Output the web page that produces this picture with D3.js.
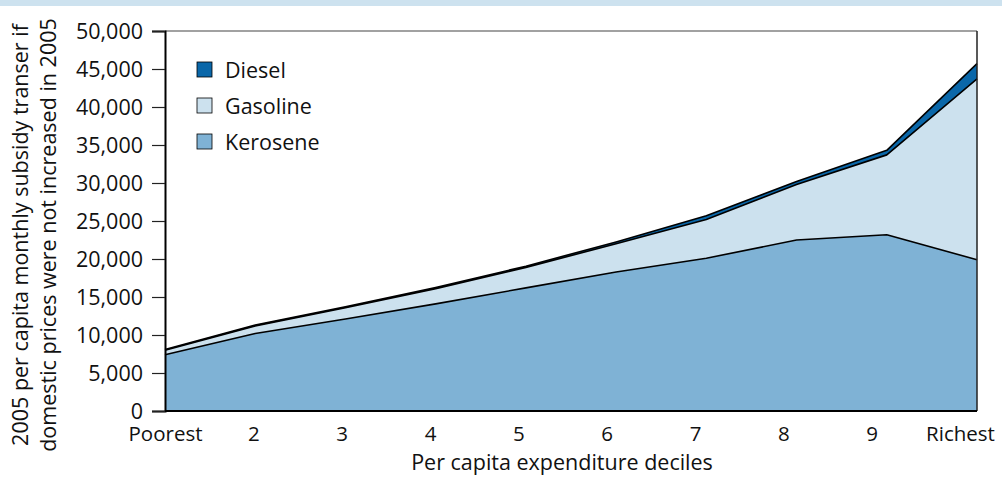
<!DOCTYPE html>
<html>
<head>
<meta charset="utf-8">
<script src="https://cdn.jsdelivr.net/npm/d3@7"></script>
<style>
  body { margin: 0; background: #fff; }
  text { font-family: "Open Sans", "Noto Sans", sans-serif; fill: #111; }
</style>
</head>
<body>
<div id="chart"></div>
<script>
const deciles = ["Poorest", "2", "3", "4", "5", "6", "7", "8", "9", "Richest"];
const kerosene = [7400, 10200, 12100, 14100, 16200, 18300, 20100, 22500, 23200, 19900];
const gasoline = [600, 1000, 1500, 2000, 2700, 3700, 5100, 7300, 10500, 23800];
const diesel = [100, 100, 100, 150, 150, 250, 500, 400, 600, 2000];
const yTicks = [0, 5000, 10000, 15000, 20000, 25000, 30000, 35000, 40000, 45000, 50000];
const seriesNames = ["Kerosene", "Gasoline", "Diesel"];
const colors = {Kerosene: "#7fb2d5", Gasoline: "#cce1ee", Diesel: "#0a67a9"};

const W = 1002, H = 477;
const margin = {top: 31, right: 25, bottom: 66, left: 165};
const width = W - margin.left - margin.right,
      height = H - margin.top - margin.bottom;
const fs = "21.5px";
const tickFs = "20.5px";

const svgRoot = d3.select("#chart").append("svg")
  .attr("width", W).attr("height", H);

// title band, cropped at top
svgRoot.append("rect").attr("x", 0).attr("y", 0).attr("width", W).attr("height", 6)
  .attr("fill", "#cde2ef");

const svg = svgRoot.append("g").attr("transform", `translate(${margin.left},${margin.top})`);

const rows = deciles.map((d, i) => ({decile: d, Kerosene: kerosene[i], Gasoline: gasoline[i], Diesel: diesel[i]}));
const stacked = d3.stack().keys(seriesNames)(rows);

const x = d3.scalePoint().domain(deciles).range([0, width]);
// labels sit slightly left of data points in the original
const xLab = d3.scalePoint().domain(deciles).range([0, width - 17]);
const y = d3.scaleLinear().domain([0, 50000]).range([height, 0]);

const area = d3.area()
  .x(d => x(d.data.decile))
  .y0(d => y(d[0]))
  .y1(d => y(d[1]));

svg.selectAll(".layer")
  .data(stacked)
  .join("path")
    .attr("class", "layer")
    .attr("fill", d => colors[d.key])
    .attr("d", area);

// outlines along the top of each layer
const topLine = d3.line().x(d => x(d.data.decile)).y(d => y(d[1]));
svg.selectAll(".edge")
  .data(stacked)
  .join("path")
    .attr("class", "edge")
    .attr("fill", "none")
    .attr("stroke", "#000")
    .attr("stroke-width", 1.6)
    .attr("stroke-linejoin", "round")
    .attr("d", d => topLine(d));

// frame top and right
svg.append("line").attr("x1", 0).attr("x2", width).attr("y1", 0).attr("y2", 0)
  .attr("stroke", "#444").attr("stroke-width", 1.2);
svg.append("line").attr("x1", width).attr("x2", width).attr("y1", 0).attr("y2", height)
  .attr("stroke", "#222").attr("stroke-width", 1.5);

// y axis
const yAxis = svg.append("g")
  .call(d3.axisLeft(y).tickValues(yTicks).tickSize(13).tickPadding(9)
    .tickFormat(d3.format(",")));
yAxis.select(".domain").attr("stroke", "#000").attr("stroke-width", 2);
yAxis.selectAll(".tick line").attr("stroke", "#222").attr("stroke-width", 1.2);
yAxis.selectAll("text").style("font-size", fs).attr("dy", "0.35em");

// x axis
svg.append("line").attr("x1", 0).attr("x2", width).attr("y1", height).attr("y2", height)
  .attr("stroke", "#000").attr("stroke-width", 2);
const xAxis = svg.append("g").attr("transform", `translate(0,${height})`)
  .call(d3.axisBottom(xLab).tickSize(0).tickPadding(15));
xAxis.select(".domain").remove();
xAxis.selectAll("text").style("font-size", tickFs);

// axis titles
svg.append("text")
  .attr("x", 562 - margin.left)
  .attr("y", 470 - margin.top)
  .attr("text-anchor", "middle")
  .style("font-size", fs)
  .text("Per capita expenditure deciles");

const yTitle = svgRoot.append("text")
  .attr("transform", `translate(28,235) rotate(-90)`)
  .attr("text-anchor", "middle")
  .style("font-size", fs);
yTitle.append("tspan").attr("x", 0).attr("dy", 0)
  .text("2005 per capita monthly subsidy transer if");
yTitle.append("tspan").attr("x", 0).attr("dy", 28)
  .text("domestic prices were not increased in 2005");

// legend
const legendNames = ["Diesel", "Gasoline", "Kerosene"];
const legend = svg.selectAll(".legend")
  .data(legendNames)
  .join("g")
    .attr("class", "legend")
    .attr("transform", (d, i) => `translate(32,${31 + i * 36})`);
legend.append("rect")
  .attr("width", 15).attr("height", 15)
  .attr("fill", d => colors[d])
  .attr("stroke", "#000").attr("stroke-width", 0.8);
legend.append("text")
  .attr("x", 28).attr("y", 15.5)
  .style("font-size", fs)
  .text(d => d);
</script>
</body>
</html>
